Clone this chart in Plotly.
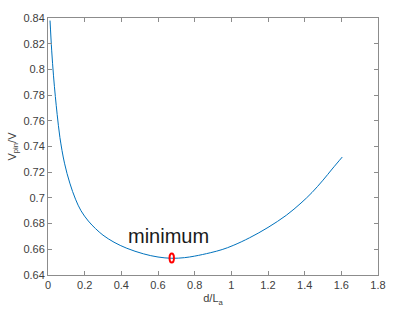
import plotly.graph_objects as go

d_over_la = [0.011, 0.02, 0.03, 0.04, 0.05, 0.065, 0.09, 0.119, 0.15, 0.18, 0.22,
             0.26, 0.30, 0.36, 0.43, 0.52, 0.60, 0.675, 0.745, 0.80, 0.885, 0.95,
             1.01, 1.10, 1.20, 1.30, 1.38, 1.44, 1.50, 1.55, 1.605]
v_pin = [0.838, 0.815, 0.795, 0.779, 0.765, 0.747, 0.727, 0.7115, 0.699, 0.690, 0.682,
         0.676, 0.671, 0.6655, 0.6608, 0.6565, 0.6540, 0.6530, 0.6535, 0.6547, 0.6573, 0.6598,
         0.6630, 0.6690, 0.6770, 0.6865, 0.6960, 0.7042, 0.7138, 0.7225, 0.7318]

x_ticks = [0, 0.2, 0.4, 0.6, 0.8, 1, 1.2, 1.4, 1.6, 1.8]
x_tick_labels = ["0", "0.2", "0.4", "0.6", "0.8", "1", "1.2", "1.4", "1.6", "1.8"]
y_ticks = [0.64, 0.66, 0.68, 0.7, 0.72, 0.74, 0.76, 0.78, 0.8, 0.82, 0.84]
y_tick_labels = ["0.64", "0.66", "0.68", "0.7", "0.72", "0.74", "0.76", "0.78", "0.8", "0.82", "0.84"]
annotation_text = "minimum"

i_min = min(range(len(v_pin)), key=lambda i: v_pin[i])
x_min, y_min = d_over_la[i_min], v_pin[i_min]

fig = go.Figure()
fig.add_trace(go.Scatter(x=d_over_la, y=v_pin, mode="lines",
                         line=dict(color="#0072BD", width=1, shape="spline", smoothing=1),
                         showlegend=False, hoverinfo="skip"))

# red ellipse marker at minimum
fig.add_shape(type="circle", xref="x", yref="y",
              x0=x_min - 0.012, x1=x_min + 0.012,
              y0=y_min - 0.0032, y1=y_min + 0.0038,
              line=dict(color="#FF0000", width=2))

fig.add_annotation(x=x_min, y=y_min, xref="x", yref="y", text=annotation_text,
                   showarrow=False, yshift=22, xshift=-3,
                   font=dict(family="Liberation Sans, Arial", size=20, color="#1a1a1a"))

axis_common = dict(showline=True, linecolor="#8c8c8c", linewidth=1, mirror="ticks",
                   ticks="inside", ticklen=4, tickcolor="#8c8c8c", showgrid=False,
                   zeroline=False, tickfont=dict(family="Liberation Sans, Arial", size=11, color="#404040"))

fig.update_layout(
    width=398, height=315,
    margin=dict(l=48, r=17, t=15, b=38),
    paper_bgcolor="white", plot_bgcolor="white",
    xaxis=dict(range=[0, 1.8], tickvals=x_ticks, ticktext=x_tick_labels,
               title=dict(text="d/L<sub>a</sub>", standoff=4,
                          font=dict(family="Liberation Sans, Arial", size=11, color="#404040")),
               **axis_common),
    yaxis=dict(range=[0.64, 0.84], tickvals=y_ticks, ticktext=y_tick_labels,
               title=dict(text="V<sub>pin</sub>/V", standoff=4,
                          font=dict(family="Liberation Sans, Arial", size=11, color="#404040")),
               **axis_common),
)

fig.write_html("out.html")
